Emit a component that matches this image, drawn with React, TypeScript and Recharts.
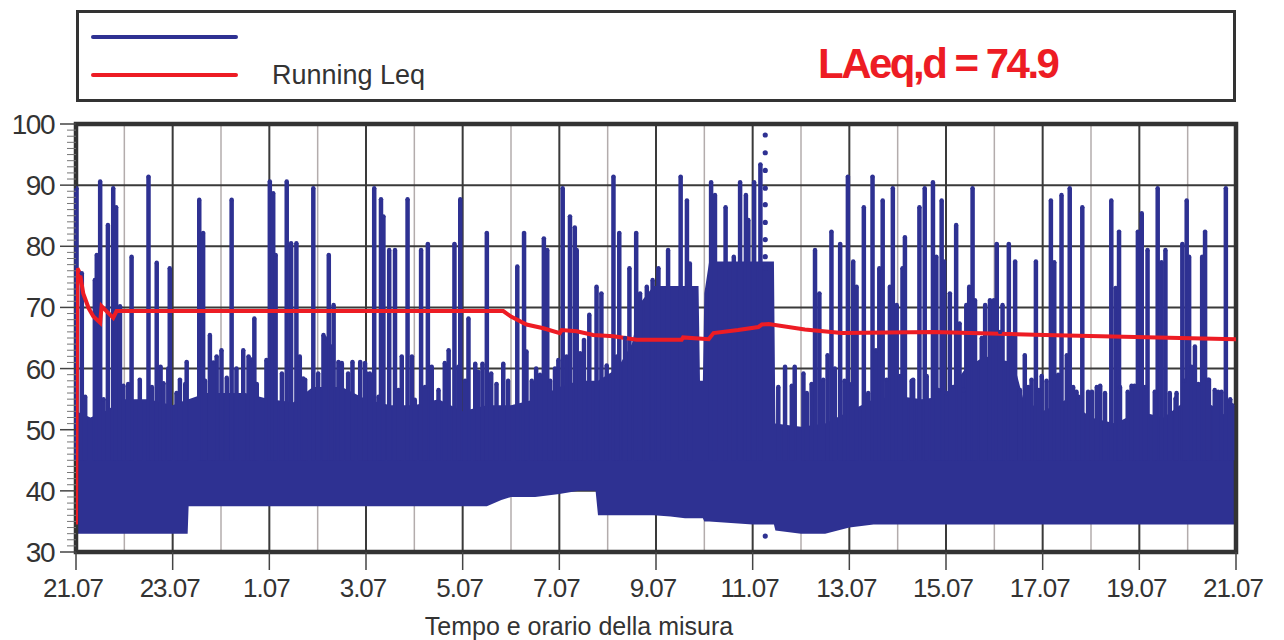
import {
  Area,
  CartesianGrid,
  ComposedChart,
  ErrorBar,
  Legend,
  Line,
  ReferenceArea,
  Scatter,
  XAxis,
  YAxis,
} from 'recharts'

const BLUE = '#2e3192'
const RED = '#ed1c24'
const INK = '#333333'
const FONT = '"Liberation Sans", Arial, Helvetica, sans-serif'

// ore trascorse dall'inizio della misura e relative etichette
const xTickHours = [0, 2, 4, 6, 8, 10, 12, 14, 16, 18, 20, 22, 24]
const xTickLabels = ['21.07', '23.07', '1.07', '3.07', '5.07', '7.07', '9.07', '11.07', '13.07', '15.07', '17.07', '19.07', '21.07']
const xMinorHours = [1, 3, 5, 7, 9, 11, 13, 15, 17, 19, 21, 23]
const yGridLevels = [40, 50, 60, 70, 80, 90]
const yTicks = Array.from({ length: 71 }, (_, i) => 30 + i)

// fascia densa del livello: [ora, minimo dB, massimo dB]
const bandLevels: [number, number, number][] = [
  [0, 33, 53], [0.3, 33, 52], [0.6, 33, 53], [1.0, 33, 55], [1.5, 33, 55], [2.0, 33, 54],
  [2.31, 33, 55], [2.33, 37.5, 55], [2.7, 37.5, 56], [3.0, 37.5, 56], [3.5, 37.5, 56],
  [4.0, 37.5, 55], [4.5, 37.5, 54.5], [4.9, 37.5, 57], [5.5, 37.5, 57], [6.0, 37.5, 55],
  [6.5, 37.5, 54], [7.0, 37.5, 54], [7.5, 37.5, 55], [8.0, 37.5, 53], [8.5, 37.5, 54],
  [8.8, 38.5, 54], [9.0, 39, 54], [9.5, 39, 55], [10.0, 39.5, 57], [10.4, 40, 58],
  [10.75, 40, 58], [10.8, 36, 58], [11.2, 36, 60], [11.5, 36, 64], [11.7, 36, 71],
  [11.95, 36, 73.5], [12.3, 35.8, 73.5], [12.6, 35.5, 73.5], [12.88, 35.5, 73.5],
  [12.91, 35.5, 58], [12.97, 35.5, 58], [13.0, 35, 72.3], [13.1, 35, 77.5], [14.0, 34.5, 77.5],
  [14.44, 34.5, 77.5], [14.47, 33.5, 51], [15.0, 33, 50.5], [15.5, 33, 51], [16.0, 34, 53],
  [16.5, 34.5, 55], [17.0, 34.5, 55.5], [17.5, 34.5, 55], [18.0, 34.5, 55.5], [18.4, 34.5, 60],
  [18.8, 34.5, 62], [19.4, 34.5, 61], [19.6, 34.5, 55], [20.0, 34.5, 53], [20.5, 34.5, 55],
  [21.0, 34.5, 52], [21.5, 34.5, 51], [22.0, 34.5, 53], [22.5, 34.5, 52], [23.0, 34.5, 55],
  [23.5, 34.5, 54], [24, 34.5, 51],
]

// picchi: [ora, livello di picco dB]
const spikePeaks: [number, number][] = [
  [0.01, 89.5], [0.12, 75.6], [0.39, 74.5], [0.43, 78.6], [0.5, 90.6], [0.66, 83.5], [0.77, 89.5],
  [0.83, 86.4], [0.91, 70.2], [1.15, 78.3], [1.5, 91.4], [1.67, 77.3], [1.75, 60.3], [1.94, 76.4],
  [2.29, 61.1], [2.55, 87.6], [2.63, 82.2], [2.77, 65.5], [2.91, 62], [3.01, 63], [3.22, 87.6],
  [3.46, 63], [3.57, 62], [3.69, 68.2], [3.94, 61.4],
  [4.01, 90.6], [4.08, 88.7], [4.13, 78.6], [4.36, 90.6], [4.45, 80.5], [4.56, 80.5], [4.63, 62],
  [4.7, 58.4], [4.91, 89.5], [5.12, 65.5], [5.23, 78.6], [5.33, 70.4], [5.43, 61.1], [5.72, 61.1],
  [5.88, 61.1], [6.01, 59.2], [6.17, 89.5], [6.31, 87.7], [6.36, 84.9], [6.48, 79.4], [6.6, 79.4],
  [6.74, 62], [6.86, 87.7], [6.95, 62], [7.14, 79.4], [7.28, 80.4], [7.36, 60.3], [7.71, 63],
  [7.83, 80.4], [7.95, 87.7],
  [8.12, 68.2], [8.26, 60.8], [8.41, 60.8], [8.5, 82.2], [8.59, 59.2], [8.84, 60.8], [9.13, 76.7],
  [9.27, 82.2], [9.32, 62.8], [9.52, 60], [9.68, 81.3], [9.75, 79.4], [9.91, 60], [10.07, 89.5],
  [10.22, 84.9], [10.32, 83.1], [10.36, 79.4], [10.51, 64.7], [10.62, 68.8], [10.77, 73.4],
  [10.87, 72.3], [11.12, 91.4], [11.24, 82.2], [11.45, 76.4], [11.59, 82.2], [11.67, 72.3],
  [11.81, 73.4], [11.93, 74.5], [12.05, 76.4],
  [12.25, 79.4], [12.51, 91.4], [12.64, 87.5], [12.7, 77.2], [13.14, 90.5], [13.22, 88.4],
  [13.44, 86.4], [13.61, 78.3], [13.74, 90.5], [13.86, 88.4], [13.91, 84.3], [14.03, 90.5],
  [14.16, 93.4], [14.67, 60.3], [14.87, 60.3], [15.05, 59.2], [15.29, 79.4], [15.38, 72.3],
  [15.55, 62.2], [15.63, 82.4], [15.81, 80.4], [15.97, 91.4], [16.08, 77.5],
  [16.15, 73.4], [16.3, 86.4], [16.48, 91.4], [16.55, 63], [16.62, 76.4], [16.69, 87.5],
  [16.84, 73.4], [16.9, 89.5], [16.98, 70.4], [17.1, 76.4], [17.15, 81.5], [17.32, 58.2],
  [17.45, 86.4], [17.56, 89.5], [17.73, 90.5], [17.8, 78.3], [17.91, 87.5], [17.96, 77.5],
  [18.08, 72.3], [18.21, 83.5], [18.28, 67.4], [18.42, 70.4], [18.48, 73.4], [18.55, 89.5],
  [18.6, 71.2], [18.81, 70.4], [18.91, 71.2], [18.99, 71.2], [19.05, 80.4], [19.17, 70.4],
  [19.3, 80.4], [19.43, 77.5], [19.63, 62.2], [19.77, 58.2], [19.86, 77.5], [19.98, 58.8],
  [20.17, 87.5], [20.24, 77.4], [20.39, 88.4], [20.5, 62.2], [20.56, 89.5], [20.7, 56.2],
  [20.82, 86.4], [20.94, 56.2], [21.19, 57.2], [21.42, 87.5], [21.51, 73.2], [21.58, 82.4],
  [21.76, 56.2], [21.9, 57.2], [21.97, 82.4], [22.05, 85.4], [22.17, 79.4], [22.38, 89.5],
  [22.46, 77.4], [22.54, 79.4], [22.75, 55.1], [22.89, 80.4], [22.98, 87.5], [23.03, 78.3],
  [23.08, 60.3], [23.15, 63.6], [23.3, 78.3], [23.36, 82.4], [23.44, 58.2], [23.63, 56.2],
  [23.79, 89.5], [23.92, 54],
]

// picchi minori sul bordo superiore della fascia: [ora, dB]
const minorPeaks: [number, number][] = [
  [0.19, 55.4], [0.57, 55], [0.98, 57.2], [1.08, 57.5], [1.32, 58.2], [1.57, 57], [1.81, 57.6],
  [1.91, 60], [2.08, 56], [2.15, 58.2], [2.26, 57.5], [2.67, 58], [2.84, 61], [3.12, 58.5],
  [3.32, 60], [3.63, 61.5], [3.74, 57.5],
  [4.26, 59.2], [4.74, 58.2], [5.01, 59.2], [5.15, 65], [5.29, 63.6], [5.5, 60.9], [5.63, 59.2],
  [5.98, 60.9], [6.08, 59.2], [6.26, 55.4], [6.67, 56.5], [7.01, 54.9], [7.22, 57], [7.5, 56.5],
  [7.63, 60.9], [7.91, 60.3],
  [8.05, 58], [8.32, 59.5], [8.7, 57.5], [8.94, 58], [9.43, 58], [9.6, 59], [9.81, 58],
  [9.98, 61.4], [10.15, 62], [10.43, 62.5], [10.98, 60.5], [11.19, 62], [11.36, 65],
  [14.53, 57], [14.81, 57.2], [15.12, 56], [15.22, 57.5], [15.46, 58.2], [15.7, 60], [15.9, 58],
  [16.05, 57.5], [16.39, 56], [16.77, 58.2], [17.05, 58.8], [17.29, 58], [17.6, 58.8],
  [17.84, 56.5], [18.01, 56], [18.15, 57], [18.36, 56.5], [18.74, 65], [19.12, 66], [19.36, 65],
  [19.53, 56.5], [19.7, 57], [19.92, 56.5],
  [20.08, 58], [20.32, 59], [20.63, 57], [20.74, 55.4], [21.02, 56.2], [21.12, 57], [21.29, 56],
  [21.6, 57], [21.84, 57.2], [22.12, 57], [22.32, 56.2], [22.63, 56], [22.77, 56], [22.94, 58],
  [23.22, 57.5], [23.42, 58.2], [23.56, 56.5], [23.7, 56.2], [23.88, 55],
]
const SPIKE_BASE = 45

// Running Leq: [ora, dB]
const runningLeq: [number, number][] = [
  [0, 34.5], [0.03, 76.4], [0.08, 75.6], [0.15, 72.3], [0.26, 69.9], [0.36, 68.5], [0.5, 67.5],
  [0.53, 70.2], [0.63, 69.4], [0.77, 68.3], [0.84, 69.4], [5.5, 69.4], [8.84, 69.4], [9.0, 68.5],
  [9.32, 67.2], [9.67, 66.6], [10.01, 65.8], [10.05, 66.3], [10.36, 66.1], [10.7, 65.5],
  [11.12, 65.3], [11.6, 64.7], [12.53, 64.7], [12.56, 65.1], [13.09, 64.8], [13.19, 65.8],
  [13.7, 66.3], [14.12, 66.8], [14.19, 67.2], [14.33, 67.3], [15.08, 66.4], [15.84, 65.8],
  [17.74, 66.0], [20.05, 65.5], [24, 64.8],
]

// campioni puntiformi verticali verso le 11.07
const markerHour = 14.26
const markerLevels = [98.2, 95.3, 92.4, 89.5, 86.8, 83.9, 81.1, 78.3, 76.4, 32.6]

type Row = { hour: number; band?: [number, number]; leq?: number }
const rowMap = new Map<number, Row>()
const rowAt = (h: number) => {
  let r = rowMap.get(h)
  if (!r) {
    r = { hour: h }
    rowMap.set(h, r)
  }
  return r
}
bandLevels.forEach(([h, lo, hi]) => {
  rowAt(h).band = [lo, hi]
})
runningLeq.forEach(([h, v]) => {
  rowAt(h).leq = v
})
const chartData = [...rowMap.values()].sort((a, b) => a.hour - b.hour)
const spikeData = [...spikePeaks, ...minorPeaks].map(([hour, peak]) => ({ hour, peak, err: [peak - SPIKE_BASE, 0] }))
const markerData = markerLevels.map((level) => ({ hour: markerHour, level }))

function XTick({ x, y, payload }: any) {
  const label = xTickLabels[xTickHours.indexOf(payload.value)]
  return (
    <text x={x - 3} y={y} dy={27} textAnchor="middle" fontSize={26} letterSpacing={-1} fill={INK} fontFamily={FONT}>
      {label}
    </text>
  )
}

function YTick({ x, y, payload }: any) {
  const v = payload.value
  const major = v % 10 === 0
  return (
    <g>
      <line x1={x - (major ? 16 : 9)} x2={x} y1={y} y2={y} stroke={major ? '#444' : '#777'} strokeWidth={major ? 1.5 : 1} />
      {major && (
        <text x={x - 22} y={y} dy={10} textAnchor="end" fontSize={28} letterSpacing={-1.5} fill={INK} fontFamily={FONT}>
          {v}
        </text>
      )}
    </g>
  )
}

function LegendBox() {
  return (
    <div style={{ height: 114, paddingLeft: 76, boxSizing: 'border-box', fontFamily: FONT }}>
      <div style={{ position: 'relative', width: 1160, height: 92, border: `3px solid ${INK}`, boxSizing: 'border-box' }}>
        <div style={{ position: 'absolute', left: 12, top: 22, width: 147, height: 4, background: BLUE, borderRadius: 2 }} />
        <div style={{ position: 'absolute', left: 12, top: 60, width: 147, height: 4, background: RED, borderRadius: 2 }} />
        <span style={{ position: 'absolute', left: 193, top: 49, fontSize: 27, lineHeight: '27px', color: INK, whiteSpace: 'nowrap' }}>
          Running Leq
        </span>
        <span style={{ position: 'absolute', left: 739, top: 30, fontSize: 42, lineHeight: '42px', fontWeight: 700, letterSpacing: -2.5, color: RED, whiteSpace: 'nowrap' }}>
          LAeq,d = 74.9
        </span>
      </div>
    </div>
  )
}

const SpikeCap = (p: any) => <circle cx={p.cx} cy={p.cy} r={2.2} fill={BLUE} />
const MarkerDot = (p: any) => <circle cx={p.cx} cy={p.cy} r={2.6} fill={BLUE} />

export default function App() {
  return (
    <div style={{ position: 'fixed', left: 0, top: 0, width: 1284, height: 640, background: '#fff' }}>
      <ComposedChart width={1284} height={640} data={chartData} margin={{ top: 10, right: 48, bottom: 0, left: 0 }}>
        <Legend verticalAlign="top" align="left" content={() => <LegendBox />} />
        <CartesianGrid horizontal={false} verticalValues={xMinorHours} stroke="#b3acac" strokeWidth={1.5} />
        <CartesianGrid horizontalValues={yGridLevels} verticalValues={xTickHours} stroke="#3a3a3a" strokeWidth={2} />
        <XAxis
          dataKey="hour"
          type="number"
          domain={[0, 24]}
          ticks={xTickHours}
          interval={0}
          allowDataOverflow
          axisLine={false}
          tickSize={18}
          tickMargin={0}
          tickLine={{ stroke: '#444', strokeWidth: 1.5 }}
          tick={<XTick />}
          height={88}
          label={{ value: 'Tempo e orario della misura', position: 'insideBottom', offset: 5, dx: -77, fill: INK, fontSize: 25, fontFamily: FONT }}
        />
        <YAxis
          type="number"
          domain={[30, 100]}
          ticks={yTicks}
          interval={0}
          allowDataOverflow
          width={76}
          axisLine={false}
          tickLine={false}
          tickSize={0}
          tickMargin={0}
          tick={<YTick />}
        />
        <Area dataKey="band" type="linear" stroke="none" fill={BLUE} fillOpacity={1} connectNulls isAnimationActive={false} />
        <Scatter data={spikeData} dataKey="peak" shape={SpikeCap} isAnimationActive={false}>
          <ErrorBar dataKey="err" direction="y" width={0} stroke={BLUE} strokeWidth={4.5} />
        </Scatter>
        <Scatter data={markerData} dataKey="level" shape={MarkerDot} isAnimationActive={false} />
        <Line dataKey="leq" type="linear" stroke={RED} strokeWidth={4} dot={false} connectNulls isAnimationActive={false} />
        <ReferenceArea x1={0} x2={24} y1={30} y2={100} fill="none" stroke={INK} strokeWidth={4.5} ifOverflow="visible" />
      </ComposedChart>
    </div>
  )
}
